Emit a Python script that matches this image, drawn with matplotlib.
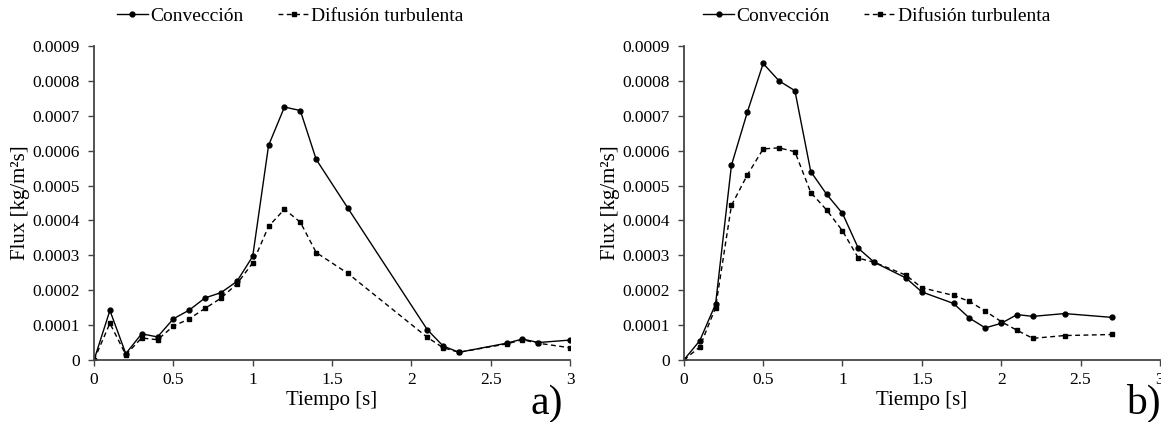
import numpy as np
import matplotlib
matplotlib.use('Agg')
import matplotlib.pyplot as plt

plt.rcParams['font.family'] = ['Liberation Serif', 'DejaVu Serif']

# panel a
t_a = [0, 0.1, 0.2, 0.3, 0.4, 0.5, 0.6, 0.7, 0.8, 0.9, 1.0, 1.1, 1.2, 1.3, 1.4, 1.6,
       2.1, 2.2, 2.3, 2.6, 2.7, 2.8, 3.0]
conv_a = [0, 0.000142, 0.000018, 0.000075, 0.000066, 0.000118, 0.000143, 0.000178,
          0.000193, 0.000225, 0.000297, 0.000615, 0.000725, 0.000715, 0.000575,
          0.000435, 0.000087, 0.000040, 0.000022, 0.000048, 0.000060, 0.000050, 0.000057]
dif_a = [0, 0.000105, 0.000015, 0.000063, 0.000058, 0.000097, 0.000118, 0.000148,
         0.000177, 0.000218, 0.000278, 0.000383, 0.000432, 0.000395, 0.000308,
         0.000248, 0.000065, 0.000035, 0.000022, 0.000046, 0.000058, 0.000048, 0.000035]

# panel b
t_b = [0, 0.1, 0.2, 0.3, 0.4, 0.5, 0.6, 0.7, 0.8, 0.9, 1.0, 1.1, 1.2, 1.4, 1.5,
       1.7, 1.8, 1.9, 2.0, 2.1, 2.2, 2.4, 2.7]
conv_b = [0, 0.000055, 0.000160, 0.000558, 0.000710, 0.000850, 0.000800, 0.000772,
          0.000540, 0.000475, 0.000420, 0.000320, 0.000280, 0.000235, 0.000195,
          0.000162, 0.000120, 0.000092, 0.000105, 0.000130, 0.000125, 0.000133, 0.000122]
dif_b = [0, 0.000037, 0.000150, 0.000443, 0.000530, 0.000605, 0.000608, 0.000597,
         0.000480, 0.000430, 0.000370, 0.000292, 0.000280, 0.000243, 0.000207,
         0.000185, 0.000168, 0.000140, 0.000110, 0.000085, 0.000062, 0.000070, 0.000073]

labels = ['Convección', 'Difusión turbulenta']
yticks = np.arange(0, 0.00091, 0.0001)
ytick_labels = ['0'] + ['%.4f' % v for v in yticks[1:]]
xticks = [0, 0.5, 1, 1.5, 2, 2.5, 3]
xtick_labels = ['0', '0.5', '1', '1.5', '2', '2.5', '3']

fig = plt.figure(figsize=(11.61, 4.22), dpi=100)
ax_a = fig.add_axes([0.081, 0.147, 0.410, 0.744])
ax_b = fig.add_axes([0.589, 0.147, 0.410, 0.744])

panels = [(ax_a, t_a, conv_a, dif_a, 'a)', 0.95, 0.25),
          (ax_b, t_b, conv_b, dif_b, 'b)', 0.965, 0.755)]
for ax, t, c, d, tag, tagx, legx in panels:
    l1, = ax.plot(t, c, '-', color='black', lw=1.0, marker='o', ms=3.5, label=labels[0])
    l2, = ax.plot(t, d, '--', color='black', lw=1.0, marker='s', ms=3.0,
                  dashes=(3.5, 2.5), label=labels[1])
    ax.set_xlim(0, 3)
    ax.set_ylim(0, 0.0009)
    ax.set_xticks(xticks)
    ax.set_xticklabels(xtick_labels)
    ax.set_yticks(yticks)
    ax.set_yticklabels(ytick_labels)
    ax.tick_params(labelsize=12.5, direction='out', length=4, width=1, color='#444444')
    ax.tick_params(axis='y', pad=6)
    ax.tick_params(axis='x', pad=5)
    for s in ['top', 'right']:
        ax.spines[s].set_visible(False)
    for s in ['left', 'bottom']:
        ax.spines[s].set_color('#444444')
        ax.spines[s].set_linewidth(1.3)
    ax.set_xlabel('Tiempo [s]', fontsize=15, labelpad=2)
    ax.set_ylabel('Flux [kg/m²s]', fontsize=15, labelpad=2)
    ax.text(tagx, -0.14, tag, transform=ax.transAxes, fontsize=30, ha='center', va='center')
    fig.legend(handles=[l1, l2], loc='center', bbox_to_anchor=(legx, 0.962), ncol=2,
               frameon=False, fontsize=14, handlelength=1.6, handletextpad=0.1,
               columnspacing=1.8, borderaxespad=0)

fig.savefig('out.png', dpi=100)
